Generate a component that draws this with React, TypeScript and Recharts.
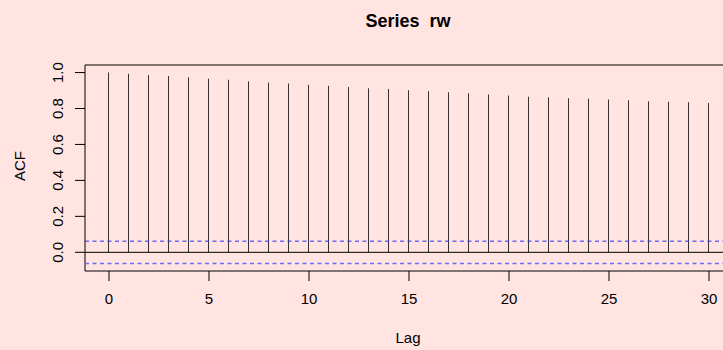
import { ComposedChart, Bar, XAxis, YAxis, ReferenceLine, ReferenceArea, Customized } from 'recharts';

// autocorrelation of the random walk, lags 0..30
const lags = [0, 1, 2, 3, 4, 5, 6, 7, 8, 9, 10, 11, 12, 13, 14, 15, 16, 17, 18, 19, 20, 21, 22, 23, 24, 25, 26, 27, 28, 29, 30];
const acfValues = [
  1.0, 0.994, 0.987, 0.981, 0.974, 0.965, 0.96, 0.952, 0.945, 0.939, 0.932,
  0.927, 0.919, 0.913, 0.908, 0.902, 0.896, 0.891, 0.885, 0.878, 0.872,
  0.866, 0.863, 0.857, 0.854, 0.85, 0.846, 0.841, 0.837, 0.835, 0.831,
];
const xTicks = [0, 5, 10, 15, 20, 25, 30];
const yTicks = [0, 0.2, 0.4, 0.6, 0.8, 1.0];
const ciBound = 0.062;

const xDomain: [number, number] = [-1.2, 31.2];
const yDomain: [number, number] = [-0.104, 1.042];

const data = lags.map((lag, i) => ({ lag, acf: acfValues[i] }));

const FONT = '"Liberation Sans", Arial, Helvetica, sans-serif';

// tick labels are placed from the tick's anchor point (axis edge)
function XTick({ x, y, payload }: any) {
  return (
    <text x={x} y={y + 23} textAnchor="middle" fontSize={15} fontFamily={FONT} fill="#000">
      {payload.value}
    </text>
  );
}

function YTick({ x, y, payload }: any) {
  const bx = x - 12;
  return (
    <text
      x={bx}
      y={y}
      transform={`rotate(-90, ${bx}, ${y})`}
      textAnchor="middle"
      fontSize={15}
      fontFamily={FONT}
      fill="#000"
    >
      {Number(payload.value).toFixed(1)}
    </text>
  );
}

function Titles() {
  return (
    <g fontFamily={FONT} fill="#000">
      <text x={408} y={27} textAnchor="middle" fontSize={18} fontWeight="bold" style={{ whiteSpace: 'pre' }}>
        {'Series  rw'}
      </text>
      <text x={408} y={343} textAnchor="middle" fontSize={15}>
        Lag
      </text>
      <text x={25} y={166} transform="rotate(-90, 25, 166)" textAnchor="middle" fontSize={15}>
        ACF
      </text>
    </g>
  );
}

export default function App() {
  return (
    <div
      style={{
        position: 'absolute',
        left: 0,
        top: 0,
        width: 723,
        height: 350,
        overflow: 'hidden',
        background: '#FFE4E1',
      }}
    >
      <ComposedChart width={733} height={350} data={data} margin={{ top: 65, right: 0, bottom: 49, left: 55 }}>
        <XAxis
          dataKey="lag"
          type="number"
          domain={xDomain}
          ticks={xTicks}
          interval={0}
          allowDataOverflow
          height={30}
          axisLine={false}
          tickSize={10}
          tickMargin={0}
          tickLine={{ stroke: '#000' }}
          tick={<XTick />}
        />
        <YAxis
          type="number"
          domain={yDomain}
          ticks={yTicks}
          interval={0}
          allowDataOverflow
          width={30}
          axisLine={false}
          tickSize={10}
          tickMargin={0}
          tickLine={{ stroke: '#000' }}
          tick={<YTick />}
        />
        <ReferenceArea
          x1={xDomain[0]}
          x2={xDomain[1]}
          y1={yDomain[0]}
          y2={yDomain[1]}
          fill="none"
          stroke="#000"
          ifOverflow="visible"
        />
        <ReferenceLine y={0} stroke="#000" />
        <ReferenceLine y={ciBound} stroke="#2a2aff" strokeDasharray="4 3.5" />
        <ReferenceLine y={-ciBound} stroke="#6a6aff" strokeWidth={1.5} strokeDasharray="4 3.5" />
        <Bar dataKey="acf" barSize={1} fill="#333" isAnimationActive={false} />
        <Customized component={Titles} />
      </ComposedChart>
    </div>
  );
}
